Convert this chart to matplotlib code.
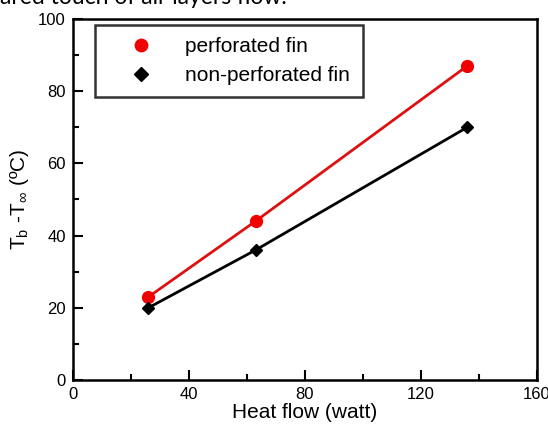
import matplotlib
matplotlib.use("Agg")
import matplotlib.pyplot as plt
from matplotlib.ticker import MultipleLocator

plt.rcParams['font.family'] = ['Liberation Sans', 'DejaVu Sans']
plt.rcParams['mathtext.fontset'] = 'custom'
plt.rcParams['mathtext.rm'] = 'Liberation Sans'

heat_flow = [26, 63, 136]
perforated = [23, 44, 87]
non_perforated = [20, 36, 70]

fig = plt.figure(figsize=(5.48, 4.28), dpi=100)
ax = fig.add_axes([0.133, 0.112, 0.847, 0.844])

ax.plot(heat_flow, perforated, color='#dd1111', lw=2, marker='o', ms=8.5,
        markerfacecolor='#f20000', markeredgecolor='#f20000', label='perforated fin')
ax.plot(heat_flow, non_perforated, color='black', lw=2, marker='D', ms=6.5,
        label='non-perforated fin')

ax.set_xlim(0, 160)
ax.set_ylim(0, 100)
ax.xaxis.set_major_locator(MultipleLocator(40))
ax.xaxis.set_minor_locator(MultipleLocator(20))
ax.yaxis.set_major_locator(MultipleLocator(20))
ax.yaxis.set_minor_locator(MultipleLocator(10))
ax.tick_params(which='both', direction='in', top=False, right=False, labelsize=12, width=1.5, pad=5)
ax.tick_params(which='major', length=7)
ax.tick_params(which='minor', length=4)
for s in ax.spines.values():
    s.set_linewidth(1.8)

ax.set_xlabel('Heat flow (watt)', fontsize=15, labelpad=1)
ax.set_ylabel(r'T$_{\mathregular{b}}$ -T$_{\mathregular{\infty}}$ (ºC)', fontsize=15, labelpad=5)

leg = ax.legend(loc='upper left', bbox_to_anchor=(0.047, 0.983), borderaxespad=0,
                fontsize=15, frameon=True, fancybox=False, edgecolor='black',
                borderpad=0.6, handletextpad=0.55, labelspacing=0.45, handlelength=3.2,
                markerscale=1.05)
leg.get_frame().set_linewidth(1.8)
for h in leg.legend_handles:
    h.set_linestyle('None')

fig.text(0.0, 1.005, 'ared touch of air layers flow.', fontsize=16.5, family='Lato',
         ha='left', va='center')

fig.savefig('out.png', dpi=100)
